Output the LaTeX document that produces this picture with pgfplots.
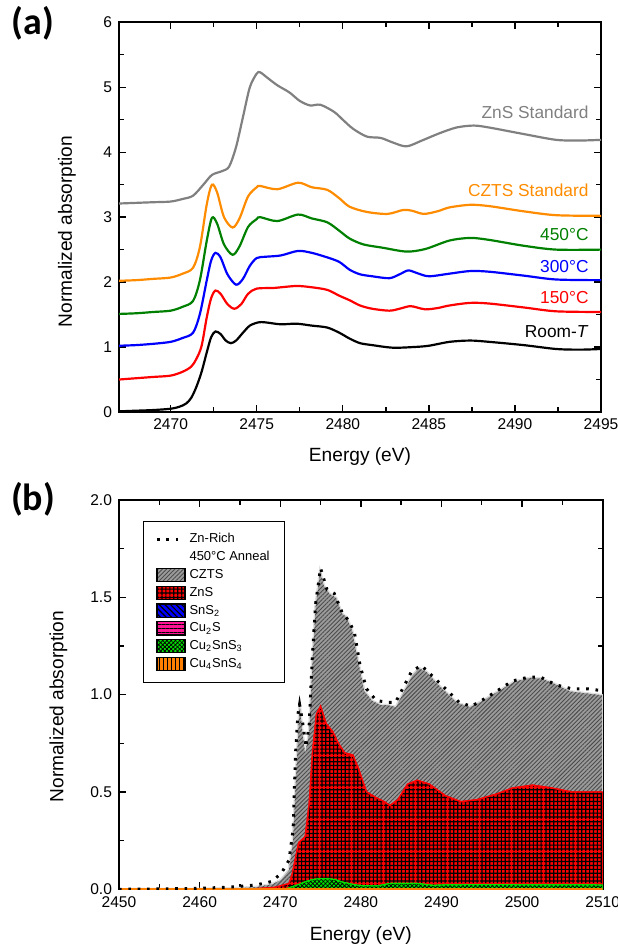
\documentclass[border=0pt]{standalone}
\usepackage{fontspec}
\setmainfont{Liberation Sans}
\newfontfamily\panelfont{Carlito}
\usepackage{pgfplots}
\pgfplotsset{compat=1.18}
\usetikzlibrary{patterns.meta}

\definecolor{cgray}{RGB}{128,128,128}
\definecolor{corange}{RGB}{255,140,0}
\definecolor{cgreen}{RGB}{0,128,0}
\definecolor{cblue}{RGB}{0,0,255}
\definecolor{cred}{RGB}{255,0,0}
\definecolor{fczts}{RGB}{155,155,155}
\definecolor{fzns}{RGB}{255,0,0}
\definecolor{fsns}{RGB}{0,0,255}
\definecolor{fcus}{RGB}{255,20,147}
\definecolor{fcts}{RGB}{0,225,0}
\definecolor{fcts4}{RGB}{255,128,0}

% square grid, 2bp cells, laid out as a 16bp tile
\pgfdeclarepatternformonly{zgrid}{\pgfpointorigin}{\pgfqpoint{16bp}{16bp}}{\pgfqpoint{16bp}{16bp}}{%
  \pgfsetlinewidth{0.6pt}%
  \foreach \k in {1,3,...,15}{%
    \pgfpathmoveto{\pgfpoint{\k bp}{0bp}}\pgfpathlineto{\pgfpoint{\k bp}{16bp}}%
    \pgfpathmoveto{\pgfpoint{0bp}{\k bp}}\pgfpathlineto{\pgfpoint{16bp}{\k bp}}%
  }%
  \pgfusepath{stroke}%
}

\pgfplotsset{
  panel/.style={
    scale only axis,
    axis line style={line width=0.9pt},
    tick style={line width=0.7pt, black},
    tick align=inside,
    major tick length=3.5bp,
    minor tick length=2.5bp,
    tick label style={font=\fontsize{7.8}{9}\selectfont},
    label style={font=\fontsize{9.6}{11}\selectfont},
    /pgf/number format/assume math mode=true,
    /pgf/number format/set thousands separator={},
  },
  patchleg/.style={legend image code/.code={%
    \draw[##1,draw=black,line width=0.6pt] (0bp,-3.3bp) rectangle (14bp,3.3bp);}},
  dotleg/.style={legend image code/.code={%
    \draw[##1] (0bp,0bp) -- (14bp,0bp);}},
  czts area/.style={fill=fczts,
    postaction={pattern={Lines[angle=45,distance=1.5pt,line width=0.45pt]}, pattern color=black!70}},
  zns area/.style={fill=fzns, postaction={pattern=zgrid, pattern color=black}},
  sns area/.style={fill=fsns,
    postaction={pattern={Lines[angle=-45,distance=2pt,line width=0.6pt]}, pattern color=black}},
  cus area/.style={fill=fcus,
    postaction={pattern={Lines[angle=0,distance=2pt,line width=0.5pt]}, pattern color=black}},
  cts area/.style={fill=fcts,
    postaction={pattern={Lines[angle=45,distance=1.5pt,line width=0.4pt]}, pattern color=black},
    postaction={pattern={Lines[angle=-45,distance=1.5pt,line width=0.4pt]}, pattern color=black}},
  cts4 area/.style={fill=fcts4,
    postaction={pattern={Lines[angle=90,distance=2pt,line width=0.5pt]}, pattern color=black}},
}

\begin{document}
\begin{tikzpicture}
\useasboundingbox (0,0) rectangle (309bp,473.5bp);

% ---------------- (a) S K-edge XANES of the series ----------------
\begin{axis}[panel,
  at={(59.5bp,267.5bp)}, anchor=south west,
  width=241bp, height=194.85bp,
  xmin=2467, xmax=2495, ymin=0, ymax=6,
  xtick={2470,2475,...,2495}, minor x tick num=1,
  ytick={0,1,...,6}, minor y tick num=1,
  xlabel={Energy (eV)}, ylabel={Normalized absorption},
  xlabel style={at={(axis description cs:0.5,-0.115)}, anchor=center},
  ylabel style={at={(axis description cs:-0.108,0.463)}, anchor=center},
]
% Room temperature
\addplot[black, line width=1.1pt, smooth, tension=0.5] coordinates {
(2467,0.01)(2468,0.02)(2469,0.03)(2470,0.05)(2470.5,0.08)(2470.9,0.13)(2471.2,0.22)
(2471.5,0.39)(2471.8,0.62)(2472.1,0.92)(2472.35,1.15)(2472.6,1.24)(2472.9,1.2)
(2473.2,1.1)(2473.5,1.06)(2473.8,1.1)(2474.2,1.22)(2474.6,1.33)(2475.1,1.38)
(2475.5,1.38)(2476.4,1.35)(2477.3,1.36)(2478.2,1.33)(2479.1,1.30)(2479.8,1.22)
(2480.4,1.13)(2481.0,1.06)(2481.7,1.03)(2482.9,0.99)(2484.1,1.0)(2485.0,1.02)
(2486.2,1.08)(2487.4,1.10)(2488.5,1.08)(2490.5,1.03)(2492.4,0.97)(2493.8,0.96)(2495,0.97)};
% 150 C
\addplot[cred, line width=1.1pt, smooth, tension=0.5] coordinates {
(2467,0.5)(2468,0.52)(2469,0.54)(2470,0.56)(2470.7,0.62)(2471.2,0.7)(2471.5,0.82)
(2471.8,1.02)(2472.1,1.46)(2472.35,1.75)(2472.6,1.87)(2472.9,1.82)(2473.3,1.66)
(2473.7,1.59)(2474.1,1.66)(2474.5,1.82)(2475.0,1.90)(2476.0,1.91)(2477.3,1.94)
(2478.2,1.92)(2479.1,1.88)(2479.8,1.79)(2480.4,1.72)(2481.0,1.64)(2481.7,1.59)
(2482.7,1.56)(2483.3,1.59)(2483.9,1.63)(2484.3,1.61)(2484.8,1.58)(2485.5,1.60)
(2486.2,1.64)(2487.4,1.68)(2488.5,1.67)(2490.5,1.61)(2492.4,1.55)(2495,1.54)};
% 300 C
\addplot[cblue, line width=1.1pt, smooth, tension=0.5] coordinates {
(2467,1.02)(2468,1.03)(2469,1.05)(2470,1.08)(2470.7,1.14)(2471.3,1.22)(2471.7,1.51)
(2472.1,2.03)(2472.35,2.33)(2472.6,2.45)(2472.9,2.38)(2473.3,2.12)(2473.8,1.96)
(2474.2,2.05)(2474.6,2.25)(2475.0,2.37)(2475.5,2.39)(2476.4,2.41)(2477.4,2.48)
(2478.2,2.45)(2479.1,2.38)(2479.8,2.31)(2480.4,2.19)(2481.0,2.12)(2481.7,2.09)
(2482.7,2.06)(2483.3,2.12)(2483.8,2.18)(2484.3,2.14)(2485.0,2.09)(2486.2,2.13)
(2487.4,2.17)(2488.5,2.16)(2490.5,2.10)(2492.4,2.04)(2495,2.03)};
% 450 C
\addplot[cgreen, line width=1.1pt, smooth, tension=0.5] coordinates {
(2467,1.51)(2468,1.52)(2469,1.54)(2470,1.56)(2470.7,1.62)(2471.3,1.71)(2471.7,2.03)
(2472.1,2.64)(2472.4,2.99)(2472.7,2.9)(2473.1,2.58)(2473.6,2.42)(2474.0,2.55)
(2474.5,2.85)(2475.0,2.97)(2475.2,3.0)(2476.2,2.94)(2477.4,3.04)(2478.2,2.98)
(2479.1,2.92)(2479.8,2.79)(2480.4,2.67)(2481.2,2.58)(2482.3,2.53)(2483.7,2.47)
(2484.8,2.51)(2486.2,2.64)(2487.4,2.68)(2488.5,2.65)(2490.5,2.56)(2492.4,2.50)(2495,2.50)};
% CZTS standard
\addplot[corange, line width=1.1pt, smooth, tension=0.5] coordinates {
(2467,2.02)(2468,2.03)(2469,2.05)(2470,2.07)(2470.7,2.13)(2471.3,2.22)(2471.7,2.54)
(2472.1,3.2)(2472.4,3.5)(2472.7,3.38)(2473.1,3.0)(2473.6,2.84)(2474.0,2.98)
(2474.5,3.32)(2475.0,3.46)(2475.2,3.48)(2476.2,3.43)(2477.4,3.53)(2478.2,3.46)
(2479.1,3.42)(2479.8,3.29)(2480.4,3.16)(2481.4,3.08)(2482.6,3.05)(2483.5,3.11)
(2484.0,3.10)(2484.7,3.05)(2485.5,3.09)(2486.2,3.15)(2487.4,3.19)(2488.5,3.17)
(2490.5,3.09)(2492.4,3.03)(2495,3.02)};
% ZnS standard
\addplot[cgray, line width=1.1pt, smooth, tension=0.5] coordinates {
(2467,3.21)(2468,3.22)(2469,3.23)(2470,3.24)(2470.7,3.28)(2471.3,3.33)(2471.9,3.5)
(2472.4,3.65)(2473.0,3.71)(2473.4,3.78)(2473.8,4.08)(2474.2,4.54)(2474.6,5.0)
(2475.0,5.21)(2475.2,5.23)(2475.6,5.15)(2476.2,5.03)(2476.9,4.92)(2477.5,4.79)
(2478.1,4.72)(2478.7,4.73)(2479.5,4.62)(2480.0,4.50)(2480.6,4.36)(2481.4,4.24)
(2482.2,4.22)(2482.9,4.15)(2483.7,4.09)(2484.6,4.18)(2485.6,4.29)(2486.6,4.38)
(2487.6,4.41)(2488.5,4.38)(2490.5,4.28)(2492.4,4.19)(2493.8,4.18)(2495,4.19)};

\begin{scope}[every node/.style={anchor=east, font=\fontsize{8.7}{10}\selectfont, inner sep=0pt}]
\node[text=cgray]   at (axis cs:2494.3,4.61) {ZnS Standard};
\node[text=corange] at (axis cs:2494.3,3.42) {CZTS Standard};
\node[text=cgreen]  at (axis cs:2494.3,2.74) {450°C};
\node[text=cblue]   at (axis cs:2494.3,2.24) {300°C};
\node[text=cred]    at (axis cs:2494.3,1.77) {150°C};
\node[text=black]   at (axis cs:2494.3,1.23) {Room-\textit{T}};
\end{scope}
\end{axis}

% ---------------- (b) linear combination fit ----------------
\begin{axis}[panel,
  at={(59.5bp,28.85bp)}, anchor=south west,
  width=241.85bp, height=194.65bp,
  xmin=2450, xmax=2510, ymin=0, ymax=2,
  xtick={2450,2460,...,2510}, minor x tick num=1,
  ytick={0,0.5,1,1.5,2}, minor y tick num=1,
  yticklabel style={/pgf/number format/.cd, fixed, fixed zerofill, precision=1},
  xlabel={Energy (eV)}, ylabel={Normalized absorption},
  xlabel style={at={(axis description cs:0.5,-0.119)}, anchor=center},
  ylabel style={at={(axis description cs:-0.125,0.469)}, anchor=center},
  legend cell align=left,
  legend style={at={(axis description cs:0.0496,0.9468)}, anchor=north west,
    draw=black, line width=0.6pt, inner xsep=6bp, inner ysep=5bp, row sep=0.8bp,
    font=\fontsize{6.5}{7.5}\selectfont,
    nodes={inner xsep=1.5bp, inner ysep=0.8bp, text height=5bp, text depth=1.5bp}},
]
% CZTS component (top of the stack)
\addplot[forget plot, draw=gray!25, line width=0.5pt, czts area] coordinates {
(2450,0.004)(2460,0.005)(2465,0.01)(2467,0.015)(2469,0.03)(2470,0.05)(2471,0.1)
(2471.5,0.25)(2471.9,0.6)(2472.3,0.93)(2472.5,0.95)(2472.8,0.82)(2473.1,0.72)
(2473.5,0.8)(2473.9,1.15)(2474.3,1.45)(2474.9,1.65)(2475.5,1.56)(2476.2,1.52)
(2477,1.5)(2477.7,1.42)(2478.3,1.40)(2479,1.33)(2479.7,1.18)(2480.5,1.02)
(2481.5,0.97)(2482.5,0.95)(2483.3,0.95)(2484.3,0.94)(2485.3,1.02)(2486.3,1.1)
(2487.2,1.14)(2488.2,1.12)(2489.5,1.06)(2490.5,1.02)(2492,0.96)(2493.5,0.94)
(2495,0.97)(2497,1.02)(2499,1.07)(2501,1.09)(2502.5,1.085)(2504,1.06)(2506,1.02)
(2508,1.01)(2510,1.0)} \closedcycle;
% ZnS component
\addplot[forget plot, draw=red, line width=0.7pt, zns area] coordinates {
(2450,0)(2466,0.0)(2469.4,0.01)(2471.1,0.03)(2471.5,0.08)(2471.8,0.14)(2472.3,0.24)
(2473.1,0.27)(2473.6,0.44)(2474.0,0.7)(2474.5,0.9)(2475.0,0.94)(2475.7,0.85)
(2476.5,0.81)(2477.2,0.75)(2478.0,0.70)(2479.0,0.69)(2479.7,0.62)(2480.7,0.50)
(2481.9,0.47)(2482.9,0.45)(2483.6,0.43)(2484.6,0.46)(2485.8,0.54)(2487.0,0.56)
(2488.5,0.54)(2490.5,0.48)(2492.4,0.45)(2494.4,0.46)(2496.9,0.49)(2498.8,0.52)
(2501.3,0.535)(2503.7,0.52)(2506.2,0.50)(2510,0.50)} \closedcycle;
% Cu2SnS3 component
\addplot[forget plot, draw=fcts, line width=0.5pt, cts area] coordinates {
(2450,0)(2470.5,0)(2471.3,0.01)(2472.3,0.025)(2473.2,0.04)(2474.0,0.05)(2475.0,0.055)
(2475.8,0.055)(2476.8,0.05)(2477.7,0.037)(2479.0,0.025)(2479.7,0.02)(2482.1,0.017)
(2483.0,0.025)(2483.6,0.03)(2487,0.03)(2489,0.02)(2490,0.022)(2493.9,0.024)(2510,0.022)} \closedcycle;
% Cu4SnS4 component (zero weight)
\addplot[forget plot, fcts4, line width=1pt] coordinates {(2450,0)(2510,0)};
% measured spectrum
\addplot[forget plot, black, line width=1.5pt, dash pattern=on 1.3pt off 3.4pt] coordinates {
(2450,0.0)(2455,0.002)(2460,0.005)(2463,0.01)(2465,0.015)(2466.4,0.02)(2468,0.03)
(2468.9,0.04)(2470.1,0.08)(2471.1,0.15)(2471.6,0.31)(2471.9,0.7)(2472.2,0.9)
(2472.4,0.95)(2472.8,0.85)(2473.2,0.73)(2473.6,0.85)(2474.0,1.21)(2474.4,1.47)
(2475.0,1.65)(2475.8,1.54)(2476.7,1.52)(2477.7,1.42)(2478.5,1.38)(2479.2,1.32)
(2479.9,1.15)(2480.7,1.03)(2481.9,0.97)(2483.4,0.96)(2484.3,0.96)(2485.3,1.04)
(2486.3,1.12)(2487.5,1.15)(2489.0,1.09)(2490.5,1.03)(2492.2,0.96)(2493.7,0.94)
(2495.4,0.98)(2497.3,1.03)(2498.8,1.07)(2500.8,1.09)(2502.3,1.09)(2504.2,1.05)
(2506.2,1.03)(2508.1,1.03)(2510,1.02)};

\addlegendimage{dotleg, black, line width=1.5pt, dash pattern=on 1.3pt off 3.4pt}
\addlegendentry{Zn-Rich}
\addlegendimage{empty legend}
\addlegendentry{450°C Anneal}
\addlegendimage{patchleg, czts area}
\addlegendentry{CZTS}
\addlegendimage{patchleg, zns area}
\addlegendentry{ZnS}
\addlegendimage{patchleg, sns area}
\addlegendentry{SnS\textsubscript{2}}
\addlegendimage{patchleg, cus area}
\addlegendentry{Cu\textsubscript{2}S}
\addlegendimage{patchleg, cts area}
\addlegendentry{Cu\textsubscript{2}SnS\textsubscript{3}}
\addlegendimage{patchleg, cts4 area}
\addlegendentry{Cu\textsubscript{4}SnS\textsubscript{4}}
\end{axis}

\node[font=\panelfont\bfseries\fontsize{19}{22}\selectfont] at (16.5bp,461.75bp) {(a)};
\node[font=\panelfont\bfseries\fontsize{19}{22}\selectfont] at (16.5bp,224bp) {(b)};
\end{tikzpicture}
\end{document}
